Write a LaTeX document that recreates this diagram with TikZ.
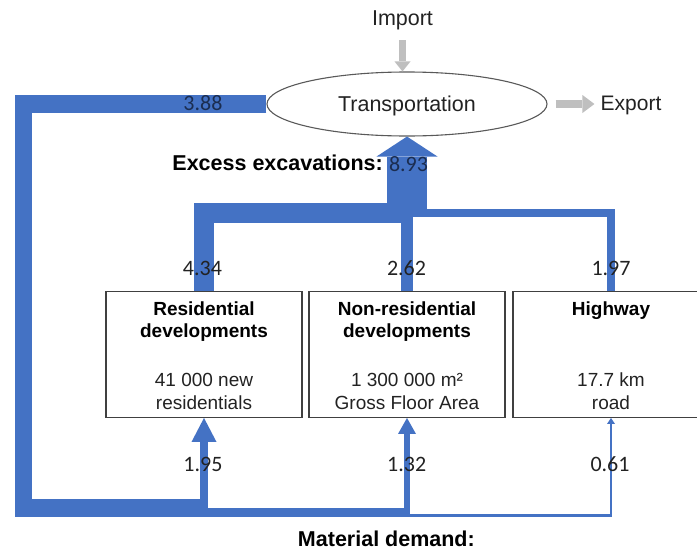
\documentclass[tikz,border=0pt]{standalone}
\usepackage{fontspec}
\setmainfont{Liberation Sans}
\newfontfamily\numfont{Carlito}
\usetikzlibrary{arrows.meta,shapes.geometric,calc}

\definecolor{flow}{HTML}{4472C4}
\definecolor{pale}{HTML}{BFBFBF}
\definecolor{rim}{HTML}{404040}
\definecolor{ink}{HTML}{222222}
\definecolor{navy}{HTML}{1B2D50}

\begin{document}
\begin{tikzpicture}[x=1pt,y=-1pt,
  lane/.style={draw=flow, line join=miter, line cap=butt},
  greyarrow/.style={draw=pale, line width=7.5pt, line cap=butt},
  unitbox/.style={draw=rim, line width=1.3pt, minimum width=196pt,
    minimum height=125.6pt, inner sep=0pt},
  lbl/.style={font=\fontsize{21.5}{26}\selectfont, text=ink, inner sep=0pt, anchor=base},
  headlbl/.style={font=\fontsize{21.5}{26}\selectfont\bfseries, text=black, inner sep=0pt, anchor=base},
  num/.style={font=\numfont\fontsize{22}{26}\selectfont, text=ink, inner sep=0pt, anchor=base},
  boxhead/.style={font=\fontsize{19}{23}\selectfont\bfseries, text=black, inner sep=0pt, anchor=base},
  boxnote/.style={font=\fontsize{19}{23}\selectfont, text=ink, inner sep=0pt, anchor=base},
]
\useasboundingbox (0,0) rectangle (697,552);

% central hub and the three development units
\node[ellipse, draw=black!65, line width=1.1pt, minimum width=280pt, minimum height=64pt,
      inner sep=0pt, text height=15.4pt, text depth=0pt,
      font=\fontsize{21.5}{26}\selectfont, text=ink] (tr) at (407,104) {Transportation};
\node[unitbox] (res)  at (204,354.5) {};
\node[unitbox] (nres) at (407,354.5) {};
\node[unitbox] (hw)   at (611,354.5) {};

% lane corner points
\coordinate (hub)  at (407,213);
\coordinate (aTop) at (27.8,108.25);
\coordinate (aBot) at (27.8,503.7);
\coordinate (bTop) at (20.6,101.05);
\coordinate (bBot) at (20.6,510.9);
\coordinate (cTop) at (16.35,96.8);
\coordinate (cBot) at (16.35,515.15);

% excess excavations: units -> transportation
\draw[lane, line width=19.1pt] (res.north) |- (hub);
\draw[lane, line width=8.7pt] (hw.north) |- (hub);
\draw[lane, line width=11.5pt] (nres.north) -- (hub);
\draw[lane, line width=39.3pt, -{Triangle[width=61pt,length=20pt,line width=0pt]}]
  (hub) -- (tr.south);

% material demand: transportation -> units
\draw[lane, line width=8.6pt, -{Triangle[width=25pt,length=24pt,line width=0pt]}]
  (tr.west |- aTop) -- (aTop) -- (aBot) -- (res.south |- aBot) -- (res.south);
\draw[lane, line width=5.8pt, -{Triangle[width=18pt,length=16pt,line width=0pt]}]
  (tr.west |- bTop) -- (bTop) -- (bBot) -- (nres.south |- bBot) -- (nres.south);
\draw[lane, line width=2.7pt, -{Triangle[width=8pt,length=6pt,line width=0pt]}]
  (tr.west |- cTop) -- (cTop) -- (cBot) -- (hw.south |- cBot) -- (hw.south);

% import and export
\node[lbl] (imp) at (402.5,25) {Import};
\node[lbl, font=\fontsize{21}{26}\selectfont] (exp) at (631,110) {Export};
\draw[greyarrow, -{Triangle[width=16pt,length=10pt,line width=0pt]}]
  (imp.south |- 0,40) -- (imp.south |- tr.north);
\draw[greyarrow, line width=8pt, -{Triangle[width=18pt,length=12pt,line width=0pt]}]
  ([xshift=8pt]tr.east) -- ([xshift=-6pt]tr.east -| exp.west);

% box texts
\node[boxhead] (resA) at ($(res.north)+(0,24.3)$) {Residential};
\node[boxhead] (resB) at ($(res.north)+(0,46.6)$) {developments};
\node[boxnote] (resC) at ($(res.north)+(0,95.6)$) {41 000 new};
\node[boxnote] (resD) at ($(res.north)+(0,118.3)$) {residentials};
\node[boxhead] (nresA) at ($(nres.north)+(0,24.3)$) {Non-residential};
\node[boxhead] (nresB) at ($(nres.north)+(0,46.6)$) {developments};
\node[boxnote] (nresC) at ($(nres.north)+(0,95.6)$) {1 300 000 m²};
\node[boxnote] (nresD) at ($(nres.north)+(0,118.3)$) {Gross Floor Area};
\node[boxhead] (hwA) at ($(hw.north)+(0,24.3)$) {Highway};
\node[boxnote] (hwC) at ($(hw.north)+(0,95.6)$) {17.7 km};
\node[boxnote] (hwD) at ($(hw.north)+(0,118.3)$) {road};

% flow values
\node[num, text=navy] (v388) at (203,110.5) {3.88};
\node[num, text=navy] (v893) at (408.5,171.7) {8.93};
\node[num] (v434) at (202.5,275) {4.34};
\node[num] (v262) at (406.5,275) {2.62};
\node[num] (v197) at (611,275) {1.97};
\node[num] (v195) at (203,471) {1.95};
\node[num] (v132) at (406.7,471) {1.32};
\node[num] (v061) at (610,471) {0.61};

% headings
\node[headlbl, anchor=base east] (exc) at (383,170.7) {Excess excavations:};
\node[headlbl, anchor=base east] (dem) at (475,546.5) {Material demand:};
\end{tikzpicture}
\end{document}
